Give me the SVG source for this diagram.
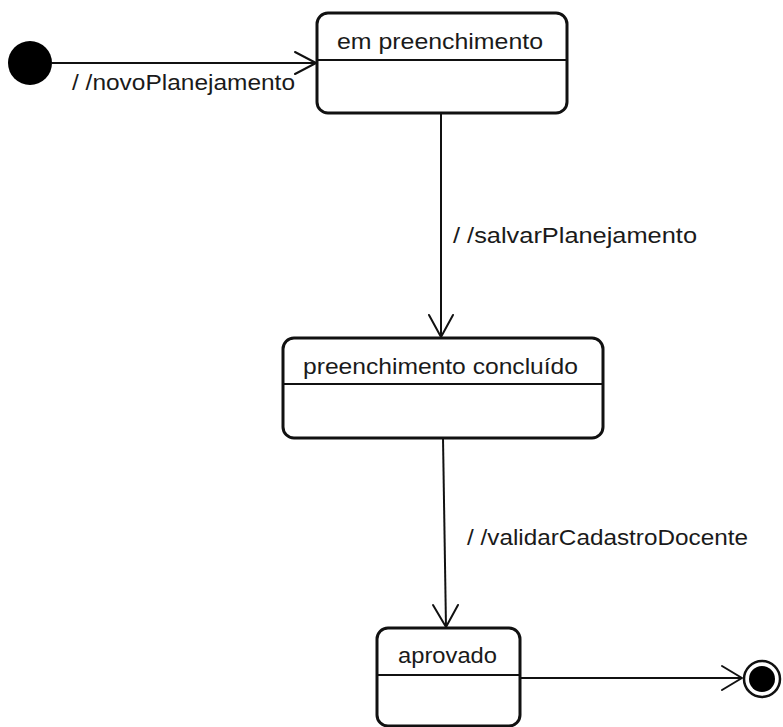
<svg xmlns="http://www.w3.org/2000/svg" width="783" height="727" viewBox="0 0 783 727">
  <style>
    .state { fill: #fff; stroke: #111; stroke-width: 3; }
    .div { stroke: #111; stroke-width: 2; fill: none; }
    .edge { stroke: #111; stroke-width: 2; fill: none; }
    .head { stroke: #111; stroke-width: 2; fill: none; stroke-linecap: round; stroke-linejoin: round; }
    text { font-family: "Liberation Sans", Arial, sans-serif; font-size: 22px; fill: #1a1a1a; }
    .name { text-anchor: start; }
  </style>
  <rect width="783" height="727" fill="#fff"/>

  <!-- transitions -->
  <g id="connectors">
    <line class="edge" x1="52" y1="63" x2="316" y2="63"/>
    <polyline class="head" points="295,52 316,63 295,74"/>
    <text x="72" y="90" textLength="223" lengthAdjust="spacingAndGlyphs">/ /novoPlanejamento</text>

    <line class="edge" x1="441" y1="113" x2="441" y2="337"/>
    <polyline class="head" points="429,315 441,337 453,315"/>
    <text x="453" y="243" textLength="244" lengthAdjust="spacingAndGlyphs">/ /salvarPlanejamento</text>

    <line class="edge" x1="443" y1="438" x2="446" y2="627"/>
    <polyline class="head" points="433,605 446,627 458,605"/>
    <text x="467" y="545" textLength="281" lengthAdjust="spacingAndGlyphs">/ /validarCadastroDocente</text>

    <line class="edge" x1="520" y1="678" x2="742" y2="678"/>
    <polyline class="head" points="722,666 742,678 722,690"/>
  </g>

  <!-- initial pseudo-state -->
  <g id="initial">
    <circle cx="30" cy="63" r="22" fill="#000"/>
  </g>

  <g id="em-preenchimento">
    <rect class="state" x="317" y="13" width="250" height="100" rx="11"/>
    <line class="div" x1="317" y1="60" x2="567" y2="60"/>
    <text x="337" y="49" textLength="206" lengthAdjust="spacingAndGlyphs">em preenchimento</text>
  </g>

  <g id="preenchimento-concluido">
    <rect class="state" x="283" y="338" width="320" height="100" rx="11"/>
    <line class="div" x1="283" y1="384" x2="603" y2="384"/>
    <text x="303" y="374" textLength="275" lengthAdjust="spacingAndGlyphs">preenchimento concluído</text>
  </g>

  <g id="aprovado">
    <rect class="state" x="377" y="628" width="143" height="98" rx="11"/>
    <line class="div" x1="377" y1="675" x2="520" y2="675"/>
    <text x="398" y="663" textLength="99" lengthAdjust="spacingAndGlyphs">aprovado</text>
  </g>

  <!-- final pseudo-state -->
  <g id="final">
    <circle cx="762" cy="679" r="18" fill="#fff" stroke="#111" stroke-width="2.5"/>
    <circle cx="762" cy="679" r="13" fill="#000"/>
  </g>
</svg>
